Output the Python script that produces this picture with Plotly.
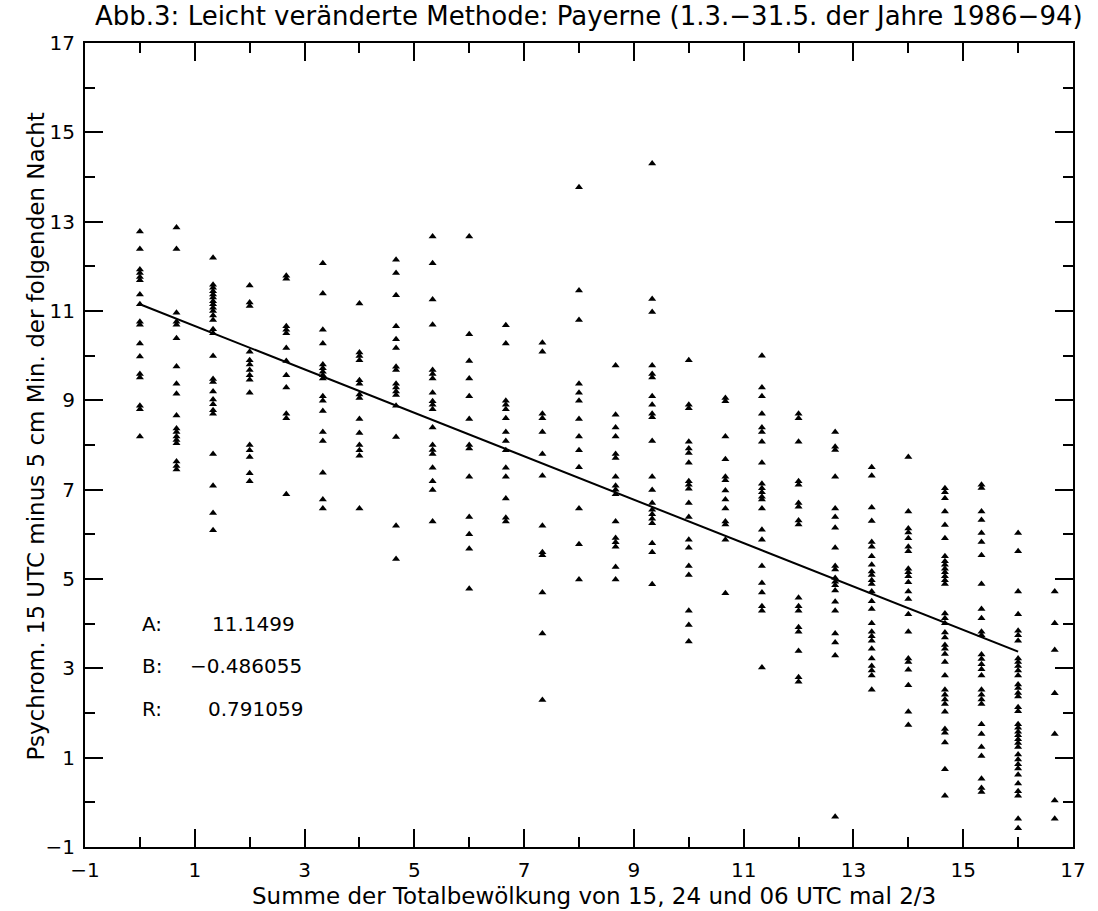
import plotly.graph_objects as go

# Column x positions (Summe der Totalbewölkung * 2/3)
col_x = [0.0, 0.667, 1.333, 2.0, 2.667, 3.333, 4.0, 4.667, 5.333, 6.0, 6.667, 7.333, 8.0,
         8.667, 9.333, 10.0, 10.667, 11.333, 12.0, 12.667, 13.333, 14.0, 14.667, 15.333,
         16.0, 16.667]

c00 = [12.78, 12.39, 11.93, 11.85, 11.76, 11.69, 11.37, 11.15, 10.76, 10.69, 10.27, 9.98, 9.59, 9.51, 8.88, 8.80, 8.19]
c01 = [12.87, 12.39, 10.96, 10.76, 10.69, 10.39, 9.76, 9.37, 9.15, 8.66, 8.37, 8.29, 8.19, 8.11, 8.04, 7.63, 7.53, 7.45]
c02 = [12.19, 11.59, 11.52, 11.44, 11.37, 11.30, 11.22, 11.15, 11.07, 11.00, 10.90, 10.80, 10.59, 10.50, 9.99, 9.48, 9.41, 9.20, 9.02, 8.91, 8.78, 8.70, 7.80, 7.09, 6.48, 6.09]
c03 = [11.57, 11.19, 11.11, 10.09, 9.90, 9.80, 9.68, 9.56, 9.46, 9.17, 8.00, 7.88, 7.73, 7.37, 7.19]
c04 = [11.79, 11.72, 10.66, 10.58, 10.50, 10.17, 9.88, 9.56, 9.29, 8.70, 8.60, 6.90]
c05 = [12.07, 11.39, 10.58, 10.27, 9.80, 9.72, 9.64, 9.56, 9.49, 9.09, 8.99, 8.76, 8.29, 8.09, 7.38, 6.78, 6.58]
c06 = [11.17, 10.07, 9.99, 9.90, 9.45, 9.37, 9.13, 9.05, 8.58, 8.27, 8.00, 7.88, 7.76, 6.58]
c07 = [12.15, 11.85, 11.35, 10.66, 10.37, 10.17, 9.75, 9.68, 9.37, 9.29, 9.20, 9.12, 8.88, 8.18, 6.19, 5.45]
c08 = [12.67, 12.07, 11.26, 10.69, 9.68, 9.59, 9.49, 9.17, 8.98, 8.90, 8.80, 8.39, 8.00, 7.89, 7.80, 7.49, 7.19, 6.99, 6.29]
c09 = [12.67, 10.48, 9.88, 9.49, 9.09, 8.58, 8.00, 7.92, 7.29, 6.39, 6.00, 5.68, 4.78]
c10 = [10.68, 10.27, 8.99, 8.90, 8.80, 8.60, 8.29, 8.09, 7.88, 7.49, 7.29, 6.80, 6.37, 6.29]
c11 = [10.29, 10.09, 8.70, 8.60, 8.29, 7.80, 7.31, 6.19, 5.60, 5.53, 4.70, 3.78, 2.29]
c12 = [13.77, 11.46, 10.80, 9.37, 9.17, 8.99, 8.58, 8.19, 7.88, 7.50, 6.58, 5.78, 4.99]
c13 = [9.78, 8.68, 8.39, 8.19, 7.80, 7.71, 7.29, 7.09, 7.00, 6.90, 6.29, 5.92, 5.82, 5.72, 5.27, 4.99]
c14 = [14.30, 11.27, 10.98, 9.78, 9.59, 9.51, 9.09, 8.90, 8.70, 8.62, 8.09, 7.29, 6.99, 6.70, 6.55, 6.45, 6.35, 6.25, 5.80, 5.60, 4.88]
c15 = [9.90, 8.90, 8.82, 8.07, 7.92, 7.82, 7.60, 7.19, 7.11, 7.02, 6.70, 6.39, 5.88, 5.70, 5.29, 5.09, 4.29, 3.97, 3.60]
c16 = [9.05, 8.98, 8.19, 7.68, 7.29, 7.21, 6.98, 6.78, 6.58, 6.29, 6.22, 5.88, 4.68]
c17 = [10.00, 9.29, 9.09, 8.70, 8.39, 8.29, 8.07, 7.60, 7.13, 7.03, 6.94, 6.84, 6.78, 6.58, 6.10, 5.88, 5.29, 4.91, 4.70, 4.39, 4.29, 3.02]
c18 = [8.70, 8.60, 8.07, 7.19, 7.11, 6.70, 6.62, 6.31, 6.22, 4.58, 4.39, 4.29, 3.92, 3.82, 3.39, 2.80, 2.70]
c19 = [8.29, 7.96, 7.89, 7.29, 6.58, 6.39, 6.15, 5.70, 5.29, 5.21, 5.02, 4.94, 4.86, 4.74, 4.49, 4.29, 3.78, 3.58, 3.29, -0.32]
c20 = [7.50, 7.31, 6.60, 6.30, 5.83, 5.72, 5.51, 5.32, 5.17, 5.09, 4.97, 4.89, 4.72, 4.50, 4.33, 4.01, 3.82, 3.72, 3.62, 3.44, 3.22, 3.05, 2.95, 2.84, 2.52]
c21 = [7.73, 6.51, 6.13, 6.04, 5.91, 5.72, 5.62, 5.23, 5.15, 5.06, 4.93, 4.72, 4.55, 4.21, 3.82, 3.22, 3.14, 2.97, 2.62, 2.03, 1.73]
c22 = [7.03, 6.94, 6.81, 6.51, 6.21, 5.91, 5.51, 5.40, 5.32, 5.23, 5.15, 5.06, 4.97, 4.89, 4.23, 4.12, 4.01, 3.80, 3.69, 3.52, 3.44, 3.32, 3.14, 2.84, 2.52, 2.41, 2.30, 2.20, 2.03, 1.64, 1.56, 1.34, 0.74, 0.15]
c23 = [7.11, 7.04, 6.51, 6.32, 6.03, 5.83, 5.53, 4.89, 4.33, 4.12, 3.82, 3.74, 3.31, 3.21, 3.09, 2.98, 2.84, 2.52, 2.41, 2.30, 2.20, 1.75, 1.53, 1.24, 1.04, 0.53, 0.32, 0.23]
c24 = [6.03, 5.62, 4.72, 4.21, 3.84, 3.74, 3.62, 3.22, 3.14, 3.05, 2.95, 2.84, 2.64, 2.56, 2.45, 2.37, 2.13, 2.04, 1.75, 1.67, 1.58, 1.50, 1.41, 1.33, 1.24, 1.07, 0.96, 0.85, 0.76, 0.62, 0.42, 0.25, 0.15, -0.37, -0.58]
c25 = [4.72, 4.01, 3.41, 2.44, 1.53, 0.04, -0.37]

columns = [c00, c01, c02, c03, c04, c05, c06, c07, c08, c09, c10, c11, c12,
           c13, c14, c15, c16, c17, c18, c19, c20, c21, c22, c23, c24, c25]

# Regression parameters
coef_a = 11.1499
coef_b = -0.486055
coef_r = 0.791059
line_x = [0.0, 16.0]

tick_major = [-1, 1, 3, 5, 7, 9, 11, 13, 15, 17]
tick_text = ["\u22121", "1", "3", "5", "7", "9", "11", "13", "15", "17"]

xs, ys = [], []
for cx, vals in zip(col_x, columns):
    for v in vals:
        xs.append(cx)
        ys.append(v)

FONT = "DejaVu Sans"

fig = go.Figure()
fig.add_trace(go.Scatter(
    x=xs, y=ys, mode="markers",
    marker=dict(symbol="triangle-up", size=7, color="black", line=dict(width=0)),
    showlegend=False, hoverinfo="skip"))
fig.add_trace(go.Scatter(
    x=line_x, y=[coef_a + coef_b * v for v in line_x], mode="lines",
    line=dict(color="black", width=2), showlegend=False, hoverinfo="skip"))

axis_common = dict(
    range=[-1, 17], tickmode="array", tickvals=tick_major, ticktext=tick_text,
    ticks="inside", ticklen=18, tickwidth=2, tickcolor="black",
    showline=True, linecolor="black", linewidth=2, mirror="ticks",
    showgrid=False, zeroline=False,
    tickfont=dict(family=FONT, size=20, color="black"),
    minor=dict(tickvals=[0, 2, 4, 6, 8, 10, 12, 14, 16], ticks="inside",
               ticklen=10, tickwidth=2, tickcolor="black", showgrid=False),
)

fig.update_xaxes(**axis_common, ticklabelstandoff=4)
fig.update_yaxes(**axis_common, ticklabelstandoff=4)

ann = []
ann.append(dict(text="Abb.3: Leicht veränderte Methode: Payerne (1.3.\u221231.5. der Jahre 1986\u221294)",
                xref="paper", yref="paper", x=0.51, y=1.034, xanchor="center", yanchor="middle",
                showarrow=False, font=dict(family=FONT, size=26, color="black")))
ann.append(dict(text="Summe der Totalbewölkung von 15, 24 und 06 UTC mal 2/3",
                xref="paper", yref="paper", x=0.515, y=-0.061, xanchor="center", yanchor="middle",
                showarrow=False, font=dict(family=FONT, size=23, color="black")))
ann.append(dict(text="Psychrom. 15 UTC minus 5 cm Min. der folgenden Nacht",
                xref="paper", yref="paper", x=-0.05, y=0.51, xanchor="center", yanchor="middle",
                textangle=-90, showarrow=False, font=dict(family=FONT, size=23, color="black")))

stat_labels = ["A:", "B:", "R:"]
stat_values = ["11.1499", "\u22120.486055", "0.791059"]
stat_y = [4.0, 3.05, 2.1]
stat_val_x = [1.28, 0.88, 1.2]
for lab, val, yy, vx in zip(stat_labels, stat_values, stat_y, stat_val_x):
    ann.append(dict(text=lab, x=0.0, y=yy, xref="x", yref="y", xanchor="left", yanchor="middle",
                    showarrow=False, font=dict(family=FONT, size=20, color="black")))
    ann.append(dict(text=val, x=vx, y=yy, xref="x", yref="y", xanchor="left", yanchor="middle",
                    showarrow=False, font=dict(family=FONT, size=20, color="black")))

fig.update_layout(
    width=1098, height=911,
    margin=dict(l=85, r=23, t=43, b=64, pad=0),
    paper_bgcolor="white", plot_bgcolor="white",
    annotations=ann,
    font=dict(family=FONT, color="black"),
)

fig.write_html("out.html")
